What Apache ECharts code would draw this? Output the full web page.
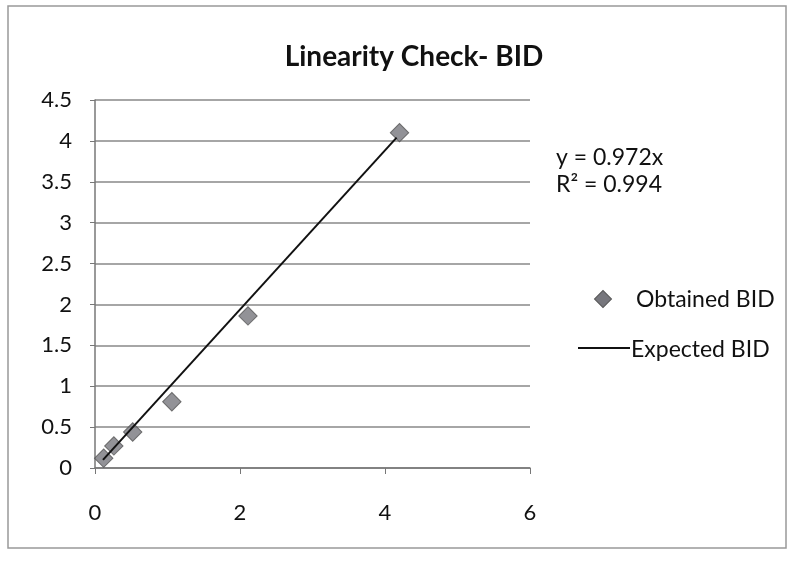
<!DOCTYPE html>
<html><head><meta charset="utf-8">
<script src="https://cdn.jsdelivr.net/npm/echarts@6/dist/echarts.min.js"></script>
<style>html,body{margin:0;padding:0;background:#fff}#c{width:794px;height:563px}</style>
</head><body><div id="c"></div>
<script>
var obtainedX = [0.12, 0.26, 0.52, 1.06, 2.11, 4.2];
var obtainedY = [0.12, 0.27, 0.44, 0.81, 1.86, 4.1];
var expectedX = [0.11, 4.16];
var expectedY = [0.10, 4.04];
var xTicks = [0, 2, 4, 6];
var yTicks = [0, 0.5, 1, 1.5, 2, 2.5, 3, 3.5, 4, 4.5];
var titleText = 'Linearity Check- BID';
var eqLines = ['y = 0.972x', 'R² = 0.994'];

var font = 'Lato, "Open Sans", sans-serif';
var chart = echarts.init(document.getElementById('c'));
chart.setOption({
  animation: false,
  backgroundColor: '#fff',
  title: { text: titleText, left: 409, top: 38, textAlign: 'center',
    textStyle: { fontFamily: font, fontSize: 28, fontWeight: 'bold', color: '#111' } },
  grid: { left: 95, right: 264, top: 100, bottom: 95 },
  xAxis: { type: 'value', min: xTicks[0], max: xTicks[xTicks.length-1], interval: 2,
    axisLine: { lineStyle: { color: '#777', width: 1.5 } },
    axisTick: { show: true, length: 6, lineStyle: { color: '#777' } },
    axisLabel: { margin: 34, fontFamily: font, fontSize: 22, color: '#111' },
    splitLine: { show: false } },
  yAxis: { type: 'value', min: yTicks[0], max: yTicks[yTicks.length-1], interval: 0.5,
    axisLine: { show: true, lineStyle: { color: '#777', width: 1.5 } },
    axisTick: { show: true, length: 5, lineStyle: { color: '#777' } },
    axisLabel: { margin: 23, fontFamily: font, fontSize: 22, color: '#111' },
    splitLine: { show: true, lineStyle: { color: '#888', width: 1.5 } } },
  legend: { show: false },
  series: [
    { name: 'Expected BID', type: 'line', data: expectedX.map(function(x,i){return [x, expectedY[i]];}),
      showSymbol: false, lineStyle: { color: '#111', width: 2 }, z: 3 },
    { name: 'Obtained BID', type: 'scatter', data: obtainedX.map(function(x,i){return [x, obtainedY[i]];}),
      symbol: 'rect', symbolSize: 13, symbolRotate: 45,
      itemStyle: { color: '#77777d', borderColor: '#555', borderWidth: 1 }, z: 2 }
  ],
  graphic: [
    { type: 'rect', shape: { x: 8, y: 6, width: 778, height: 542 }, style: { fill: 'none', stroke: '#999', lineWidth: 1.5 } },
    { type: 'text', style: { x: 556, y: 158, text: eqLines[0], font: '23px ' + font, fill: '#111', verticalAlign: 'middle' } },
    { type: 'text', style: { x: 556, y: 185, text: eqLines[1], font: '23px ' + font, fill: '#111', verticalAlign: 'middle' } },
    { type: 'rect', shape: { x: -6, y: -6, width: 12, height: 12 }, x: 603, y: 299, rotation: Math.PI/4,
      style: { fill: '#77777d', stroke: '#555', lineWidth: 1 } },
    { type: 'text', style: { x: 636, y: 300, text: 'Obtained BID', font: '23px ' + font, fill: '#111', verticalAlign: 'middle' } },
    { type: 'line', shape: { x1: 578, y1: 348, x2: 630, y2: 348 }, style: { stroke: '#111', lineWidth: 2 } },
    { type: 'text', style: { x: 631, y: 350, text: 'Expected BID', font: '23px ' + font, fill: '#111', verticalAlign: 'middle' } }
  ]
});
</script></body></html>
